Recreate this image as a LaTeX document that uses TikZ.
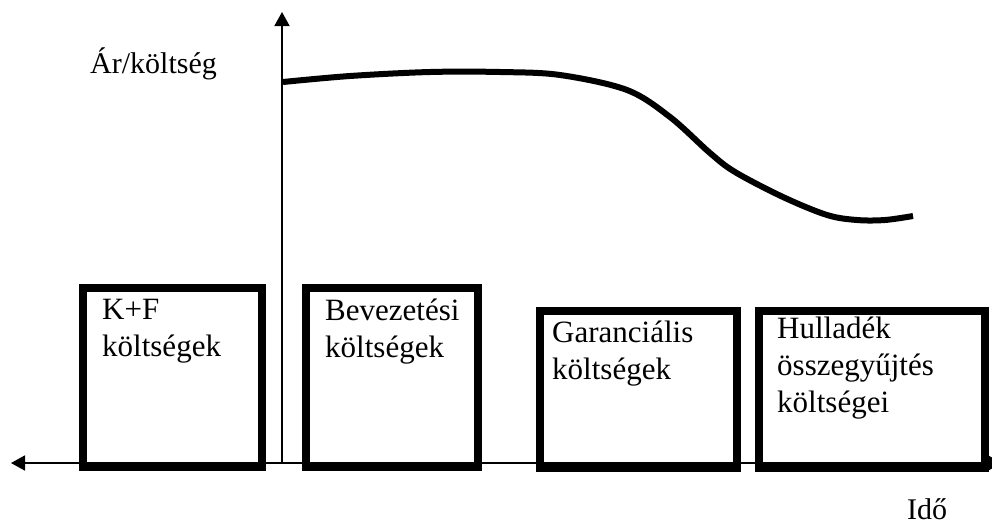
\documentclass[tikz,border=0pt]{standalone}
\usepackage{fontspec}
\setmainfont{Liberation Serif}
\usetikzlibrary{arrows.meta,calc}
\begin{document}
\begin{tikzpicture}[x=1pt,y=-1pt,
  >={Triangle[length=14pt,width=15pt]},
  box/.style={draw, line width=8pt, inner sep=0pt, anchor=north west},
  lbl/.style={anchor=north west, inner sep=0pt, align=left, font=\fontsize{31}{37}\selectfont},
  txt/.style={inner sep=0pt, font=\fontsize{30}{36}\selectfont},
  axisline/.style={line width=1.8pt},
  curve/.style={line width=6pt}
]
\useasboundingbox (0,0) rectangle (992,525);

% axes
\coordinate (xl) at (11,463);
\coordinate (xr) at (1002,463);
\coordinate (o) at (282,463);
\coordinate (yt) at (282,12);
\draw[axisline, <->] (xl) -- (xr);
\draw[axisline, ->] (o) -- (yt);

% boxes
\node[box, minimum width=179pt, minimum height=179pt] (b1) at (79,284) {};
\node[box, minimum width=172pt, minimum height=179pt] (b2) at (302,284) {};
\node[box, minimum width=197pt, minimum height=157pt] (b3) at (536,307) {};
\node[box, minimum width=226pt, minimum height=157pt] (b4) at (755,307) {};

\node[lbl] (t1) at ($(b1.north west)+(23,15)$) {K+F\\költségek};
\node[lbl] (t2) at ($(b2.north west)+(23,15)$) {Bevezetési\\költségek};
\node[lbl] (t3) at ($(b3.north west)+(16,14)$) {Garanciális\\költségek};
\node[lbl] (t4) at ($(b4.north west)+(22,10)$) {Hulladék\\összegyűjtés\\költségei};

% labels
\node[txt, anchor=base west] (ylab) at (90,73) {Ár/költség};
\node[txt, anchor=base west] (xlab) at (907,519) {Idő};

% curve
\draw[curve] plot[smooth, tension=0.55] coordinates {
 (283,82) (350,76) (430,72) (500,72) (560,75) (627,90) (670,117)
 (710,153) (735,172) (783,197) (827,215) (857,220) (885,220) (913,216)};
\end{tikzpicture}
\end{document}
